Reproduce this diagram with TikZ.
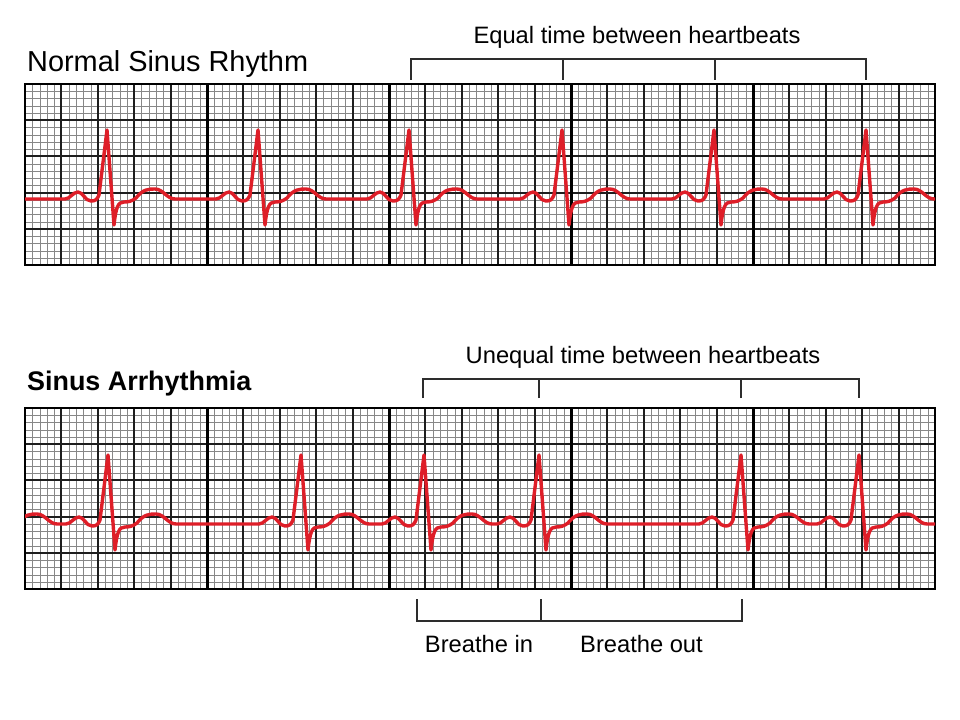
\documentclass[tikz,border=0pt]{standalone}
\usepackage{fontspec}
\setmainfont{Liberation Sans}
\definecolor{ecgred}{RGB}{222,30,40}
\definecolor{minorgray}{RGB}{135,135,135}
\definecolor{majorgray}{RGB}{30,30,30}
\definecolor{brackgray}{RGB}{45,45,45}
\newcommand\beatpath[2]{%
 -- ({#1-42},#2) .. controls ({#1-37},#2) and ({#1-34},{#2-7}) .. ({#1-29},{#2-7})
 .. controls ({#1-24},{#2-7}) and ({#1-22},{#2+2}) .. ({#1-16},{#2+2})
 .. controls ({#1-12},{#2+2}) and ({#1-10},{#2+1}) .. ({#1-8},{#2-4})
 -- ({#1},{#2-69}) -- ({#1+7},{#2+26})
 .. controls ({#1+9},{#2+8}) and ({#1+11},{#2+3}) .. ({#1+17},{#2+3})
 .. controls ({#1+22},{#2+3}) and ({#1+25},{#2+2}) .. ({#1+29},{#2-1})
 .. controls ({#1+36},{#2-10}) and ({#1+42},{#2-10}) .. ({#1+48},{#2-10})
 .. controls ({#1+56},{#2-10}) and ({#1+60},{#2}) .. ({#1+68},{#2})}
\newcommand\ecggrid[2]{% #1 = top y, #2 = bottom y
 \foreach \i in {1,...,124} {\pgfmathsetmacro\xx{round(25+\i*36.4/5)+0.5}
   \draw[minorline] (\xx,#1) -- (\xx,#2);}
 \foreach \j in {1,...,24} {\pgfmathsetmacro\yy{round(#1+\j*(#2-#1)/25)+0.5}
   \draw[minorline] (25,\yy) -- (935,\yy);}
 \foreach \i in {1,...,24} {\pgfmathsetmacro\xx{round(25+\i*36.4)}
   \draw[majorline] (\xx,#1) -- (\xx,#2);}
 \foreach \j in {1,...,4} {\pgfmathsetmacro\yy{round(#1+\j*(#2-#1)/5)}
   \draw[majorline] (25,\yy) -- (935,\yy);}
 \foreach \i in {5,10,15,20} {\pgfmathsetmacro\xx{round(25+\i*36.4)+0.5}
   \draw[groupline] (\xx,#1) -- (\xx,#2);}
 \draw[borderline] (25,#1) rectangle (935,#2);}
\begin{document}
\begin{tikzpicture}[x=1bp,y=-1bp,
  minorline/.style={draw=minorgray,line width=1bp},
  majorline/.style={draw=majorgray,line width=2bp},
  groupline/.style={draw=black,line width=3bp},
  borderline/.style={draw=black,line width=2bp},
  ecg/.style={draw=ecgred,line width=3.4bp,line join=round,line cap=round},
  brack/.style={draw=brackgray,line width=1.6bp},
  title/.style={anchor=base west,inner sep=0pt,font=\fontsize{29}{32}\selectfont},
  btitle/.style={anchor=base west,inner sep=0pt,font=\fontsize{27}{30}\selectfont\bfseries},
  label/.style={anchor=base,inner sep=0pt,font=\fontsize{23.8}{28}\selectfont}]
\useasboundingbox[fill=white] (0,0) rectangle (960,720);

% titles and labels
\node[title] (t1) at (27,72) {Normal Sinus Rhythm};
\node[btitle] (t2) at (27,390) {Sinus Arrhythmia};
\node[label] (l1) at (637,44) {Equal time between heartbeats};
\node[label] (l2) at (643,363) {Unequal time between heartbeats};
\node[label] (l3) at (479,652) {Breathe in};
\node[label] (l4) at (641.5,652) {Breathe out};

% top strip
\ecggrid{84}{265}
\begin{scope}
\clip (25,84) rectangle (935,265);
\draw[ecg] (25,199) \beatpath{107}{199} \beatpath{258}{199} \beatpath{409}{199}
  \beatpath{562}{199} \beatpath{714}{199} \beatpath{866}{199} -- (940,199);
\end{scope}

% bottom strip
\ecggrid{408}{589}
\begin{scope}
\clip (25,408) rectangle (935,589);
\draw[ecg] (-70,524) \beatpath{-11}{524} \beatpath{108}{524} \beatpath{301}{524}
  \beatpath{424}{524} \beatpath{539}{524} \beatpath{741}{524} \beatpath{859}{524} -- (940,524);
\end{scope}

% brackets
\coordinate (a1) at (411,80); \coordinate (a2) at (563,80);
\coordinate (a3) at (715,80); \coordinate (a4) at (866,80);
\draw[brack] (a1) -- (411,59) -- (866,59) -- (a4);
\draw[brack] (a2) -- (563,59);
\draw[brack] (a3) -- (715,59);

\coordinate (b1) at (423,398); \coordinate (b2) at (539,398);
\coordinate (b3) at (741,398); \coordinate (b4) at (859,398);
\draw[brack] (b1) -- (423,379) -- (859,379) -- (b4);
\draw[brack] (b2) -- (539,379);
\draw[brack] (b3) -- (741,379);

\coordinate (c1) at (417,599); \coordinate (c2) at (541,599); \coordinate (c3) at (742,599);
\draw[brack] (c1) -- (417,621) -- (742,621) -- (c3);
\draw[brack] (c2) -- (541,621);
\end{tikzpicture}
\end{document}
